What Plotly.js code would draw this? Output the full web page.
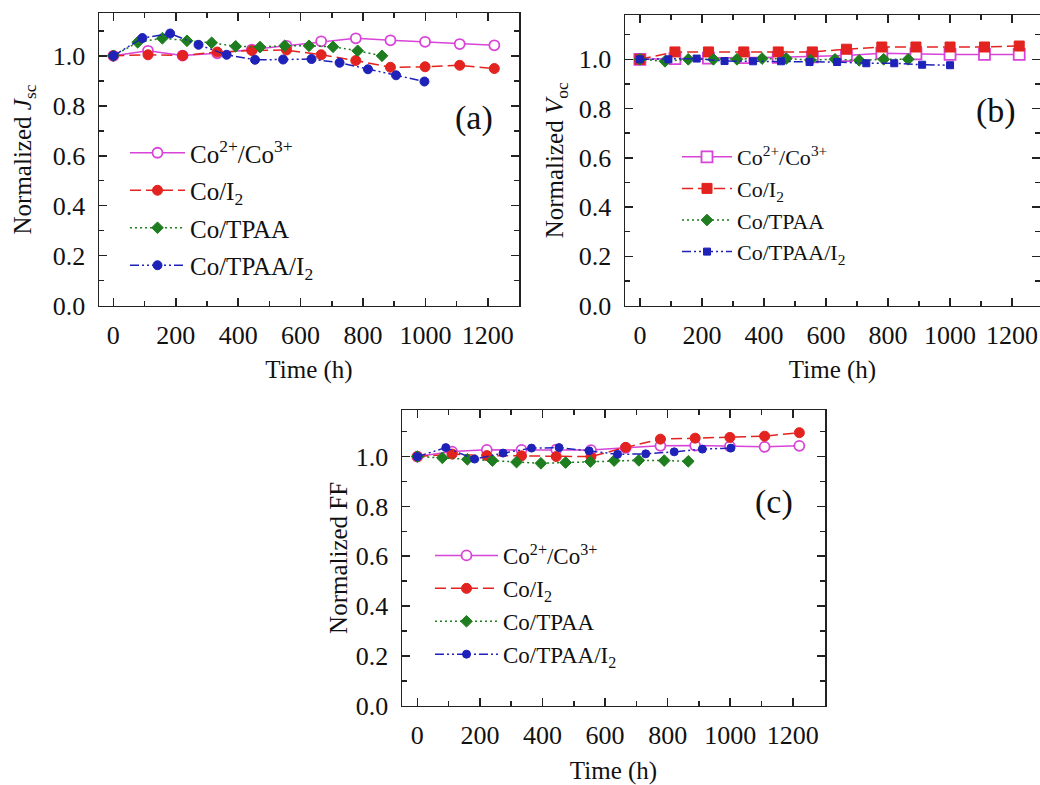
<!DOCTYPE html>
<html><head><meta charset="utf-8">
<script src="https://cdn.plot.ly/plotly-3.0.1.min.js"></script>
<style>html,body{margin:0;padding:0;background:#fff}</style>
</head><body><div id="chart" style="width:1040px;height:785px"></div>
<script>
// ---- series names ----
const seriesNames = ['Co<sup>2+</sup>/Co<sup>3+</sup>', 'Co/I<sub>2</sub>', 'Co/TPAA', 'Co/TPAA/I<sub>2</sub>'];
const xTickVals = [0, 200, 400, 600, 800, 1000, 1200];
const yTickVals = [0.0, 0.2, 0.4, 0.6, 0.8, 1.0];

// ---- panel (a): normalized Jsc ----
const tA_co      = [0, 111, 222, 333, 444, 555, 666, 777, 888, 999, 1110, 1221];
const jsc_co     = [1.0, 1.02, 1.001, 1.01, 1.025, 1.04, 1.058, 1.07, 1.062, 1.056, 1.047, 1.042];
const tA_coI2    = [0, 111, 222, 333, 444, 555, 666, 777, 888, 999, 1110, 1221];
const jsc_coI2   = [1.0, 1.004, 1.001, 1.015, 1.021, 1.023, 1.004, 0.981, 0.954, 0.956, 0.962, 0.949];
const tA_tpaa    = [0, 78, 157, 236, 315, 392, 470, 549, 627, 704, 783, 861];
const jsc_tpaa   = [1.0, 1.054, 1.07, 1.06, 1.052, 1.038, 1.035, 1.04, 1.04, 1.036, 1.02, 1.0];
const tA_tpaaI2  = [0, 93, 182, 273, 363, 454, 544, 635, 725, 816, 906, 997];
const jsc_tpaaI2 = [1.0, 1.071, 1.089, 1.044, 1.004, 0.984, 0.985, 0.987, 0.972, 0.946, 0.922, 0.897];

// ---- panel (b): normalized Voc ----
const tB_co      = [0, 113, 221, 335, 446, 556, 666, 780, 890, 1000, 1111, 1223];
const voc_co     = [1.0, 1.003, 1.005, 1.007, 1.008, 1.01, 1.015, 1.025, 1.022, 1.02, 1.02, 1.02];
const tB_coI2    = [0, 113, 221, 335, 446, 556, 666, 780, 890, 1000, 1111, 1223];
const voc_coI2   = [1.0, 1.03, 1.03, 1.03, 1.03, 1.03, 1.041, 1.05, 1.05, 1.05, 1.05, 1.054];
const tB_tpaa    = [0, 81, 156, 237, 313, 394, 472, 550, 629, 707, 786, 865];
const voc_tpaa   = [1.0, 0.992, 1.0, 1.0, 1.0, 1.003, 1.003, 0.997, 1.0, 0.996, 1.0, 1.0];
const tB_tpaaI2  = [0, 92, 183, 273, 365, 455, 547, 636, 730, 820, 910, 1000];
const voc_tpaaI2 = [1.0, 1.0, 1.003, 0.993, 0.992, 0.992, 0.989, 0.989, 0.984, 0.984, 0.978, 0.976];

// ---- panel (c): normalized FF ----
const tC_co      = [0, 111, 222, 333, 444, 555, 666, 777, 888, 999, 1110, 1221];
const ff_co      = [1.0, 1.02, 1.027, 1.027, 1.028, 1.026, 1.035, 1.043, 1.044, 1.041, 1.039, 1.043];
const tC_coI2    = [0, 111, 222, 333, 444, 555, 666, 777, 888, 999, 1110, 1221];
const ff_coI2    = [1.0, 1.01, 1.004, 1.003, 1.0, 1.0, 1.037, 1.07, 1.074, 1.077, 1.082, 1.096];
const tC_tpaa    = [0, 80, 160, 240, 317, 395, 474, 553, 629, 708, 789, 866];
const ff_tpaa    = [1.0, 0.995, 0.989, 0.984, 0.978, 0.973, 0.976, 0.98, 0.984, 0.985, 0.984, 0.981];
const tC_tpaaI2  = [0, 91, 183, 274, 365, 453, 549, 640, 730, 821, 911, 1002];
const ff_tpaaI2  = [1.0, 1.036, 0.99, 1.014, 1.034, 1.036, 1.023, 1.009, 1.011, 1.019, 1.03, 1.034];

// ---- styling ----
const FONT = '"Liberation Serif", "Times New Roman", serif';
const COLORS = ['#d843d8', '#e3231f', '#1e7d1e', '#1f22b8'];
const DASHES = ['solid', '11px,5px', '2px,3px', '9px,3px,2px,3px,2px,3px'];

function mk(x, y, i, panel, symbol, size, hollow) {
  const axN = panel === 1 ? '' : String(panel);
  return {
    x: x, y: y, type: 'scatter', mode: 'lines+markers',
    name: seriesNames[i],
    xaxis: 'x' + axN, yaxis: 'y' + axN,
    legend: 'legend' + axN,
    legendgroup: 'g' + panel + '_' + i,
    line: {color: COLORS[i], width: 1.5, dash: DASHES[i]},
    marker: {symbol: symbol, size: size, color: hollow ? '#ffffff' : COLORS[i],
             line: {color: COLORS[i], width: hollow ? 1.8 : 1}}
  };
}

const data = [
  mk(tA_co, jsc_co, 0, 1, 'circle', 10, true),
  mk(tA_coI2, jsc_coI2, 1, 1, 'circle', 10, false),
  mk(tA_tpaa, jsc_tpaa, 2, 1, 'diamond', 9, false),
  mk(tA_tpaaI2, jsc_tpaaI2, 3, 1, 'circle', 9, false),
  mk(tB_co, voc_co, 0, 2, 'square', 11, true),
  mk(tB_coI2, voc_coI2, 1, 2, 'square', 10, false),
  mk(tB_tpaa, voc_tpaa, 2, 2, 'diamond', 9, false),
  mk(tB_tpaaI2, voc_tpaaI2, 3, 2, 'square', 7, false),
  mk(tC_co, ff_co, 0, 3, 'circle', 10, true),
  mk(tC_coI2, ff_coI2, 1, 3, 'circle', 10, false),
  mk(tC_tpaa, ff_tpaa, 2, 3, 'diamond', 9, false),
  mk(tC_tpaaI2, ff_tpaaI2, 3, 3, 'circle', 8, false)
];

const W = 1040, H = 785;
function px2x(p) { return p / W; }
function px2y(p) { return 1 - p / H; }

function baseAxis() {
  return {
    ticks: 'inside', ticklen: 8, tickwidth: 1.5, tickcolor: '#222',
    showline: true, linecolor: '#222', linewidth: 1.5, mirror: 'allticks',
    showgrid: false, zeroline: false,
    tickfont: {family: FONT, size: 26, color: '#111'}
  };
}
function xAxis(d0, d1, anchor, range, standoff) {
  return Object.assign(baseAxis(), {
    domain: [d0, d1], anchor: anchor, range: range,
    tickvals: xTickVals, ticklabelstandoff: 6,
    minor: {dtick: 100, tick0: 0, ticks: 'inside', ticklen: 5, tickwidth: 1.5, tickcolor: '#222'},
    title: {text: 'Time (h)', font: {family: FONT, size: 25, color: '#111'}, standoff: standoff}
  });
}
function yAxis(d0, d1, anchor, range, title, standoff) {
  return Object.assign(baseAxis(), {
    domain: [d0, d1], anchor: anchor, range: range,
    tickvals: yTickVals, tickformat: '.1f', ticklabelstandoff: 7,
    minor: {dtick: 0.1, tick0: 0, ticks: 'inside', ticklen: 5, tickwidth: 1.5, tickcolor: '#222'},
    title: {text: title, font: {family: FONT, size: 25, color: '#111'}, standoff: standoff}
  });
}
function legendAt(xp, yp, iw, gap, fs) {
  return {x: px2x(xp), y: px2y(yp), xanchor: 'left', yanchor: 'top',
          bgcolor: 'rgba(0,0,0,0)', borderwidth: 0, itemwidth: iw,
          traceorder: 'grouped', tracegroupgap: gap,
          font: {family: FONT, size: fs, color: '#111'}};
}
function panelLabel(txt, xp, yp) {
  return {text: txt, x: px2x(xp), y: px2y(yp), xref: 'paper', yref: 'paper',
          xanchor: 'center', yanchor: 'middle', showarrow: false,
          font: {family: FONT, size: 34, color: '#111'}};
}

const layout = {
  width: W, height: H,
  margin: {l: 0, r: 0, t: 0, b: 0},
  paper_bgcolor: '#fff', plot_bgcolor: '#fff',
  showlegend: true,
  xaxis:  xAxis(px2x(99), px2x(519), 'y', [-46, 1300], 11),
  yaxis:  yAxis(px2y(305.7), px2y(13.3), 'x', [0, 1.17], 'Normalized <i>J</i><sub>sc</sub>', 14),
  xaxis2: xAxis(px2x(625), 1.0, 'y2', [-48, 1290], 11),
  yaxis2: yAxis(px2y(305.5), px2y(15), 'x2', [0, 1.18], 'Normalized <i>V</i><sub>oc</sub>', 8),
  xaxis3: xAxis(px2x(402), px2x(825), 'y3', [-49, 1303], 15),
  yaxis3: yAxis(px2y(705.7), px2y(410), 'x3', [0, 1.187], 'Normalized FF', 1),
  legend:  legendAt(125, 130, 55, 2, 25),
  legend2: legendAt(677, 136, 50, 0, 22),
  legend3: legendAt(430, 534, 63, 0, 23),
  annotations: [
    panelLabel('(a)', 474, 118),
    panelLabel('(b)', 996, 111),
    panelLabel('(c)', 774, 502)
  ]
};

Plotly.newPlot('chart', data, layout, {staticPlot: true, displayModeBar: false});
</script>
</body></html>
